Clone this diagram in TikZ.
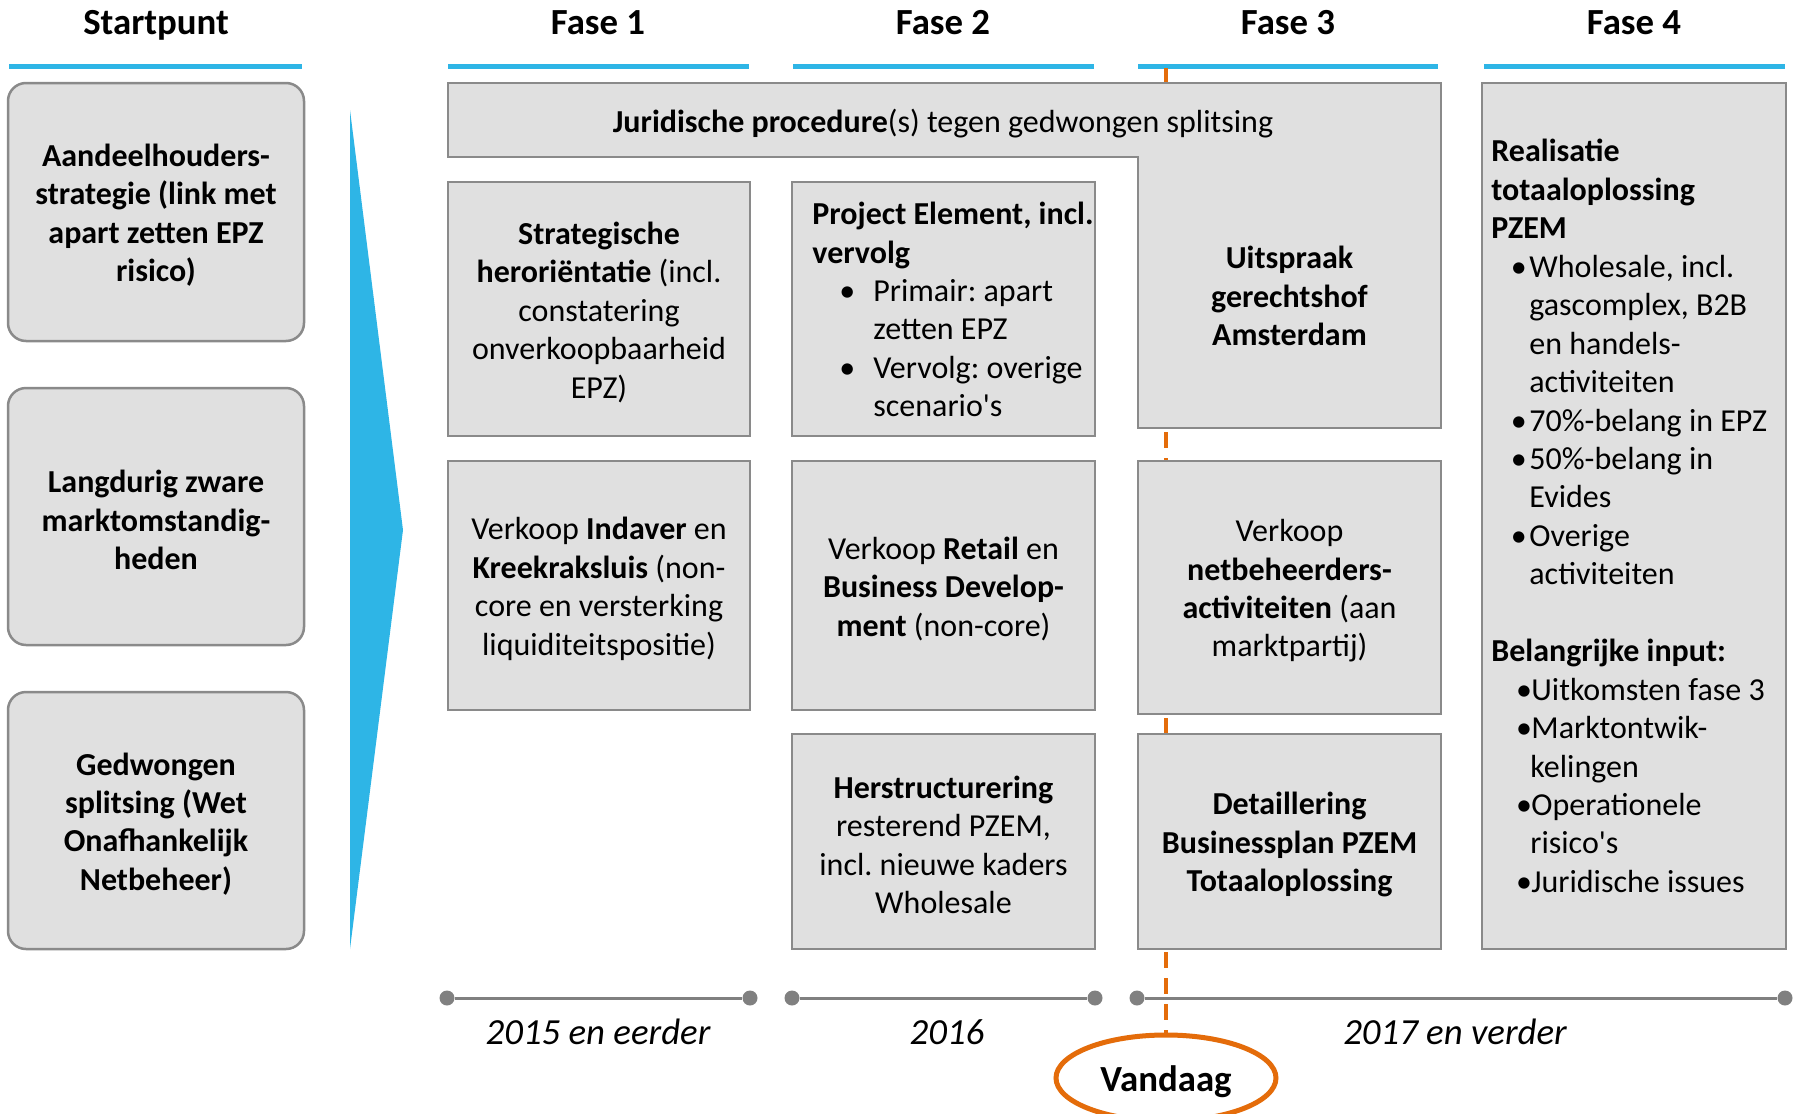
\documentclass[tikz,border=0pt]{standalone}
\usepackage{fontspec}
\setmainfont{Carlito}
\usetikzlibrary{shapes.geometric}
\definecolor{pblue}{RGB}{46,181,230}
\definecolor{bfill}{RGB}{224,224,224}
\definecolor{bdraw}{RGB}{138,138,138}
\definecolor{porange}{RGB}{228,108,10}
\definecolor{tgray}{RGB}{128,128,128}
\newcommand{\bodyfont}{\fontsize{16}{19.22}\selectfont\frenchspacing}
\newcommand{\headfont}{\fontsize{18.4}{22}\selectfont\bfseries}
\newcommand{\bul}[2]{\hspace*{#1}\makebox[#2][l]{•}}
\begin{document}
\begin{tikzpicture}[x=0.5pt,y=-0.5pt,
  gbox/.style={draw=bdraw, fill=bfill, line width=1.25pt, inner sep=0pt},
  rbox/.style={gbox, rounded corners=9pt, minimum width=148pt},
  head/.style={font=\headfont, anchor=base, inner sep=0pt},
  uline/.style={pblue, line width=2.5pt},
  txt/.style={font=\bodyfont, align=center, inner sep=0pt, yshift=-1.7pt},
  yr/.style={font=\fontsize{18.4}{22}\selectfont\itshape, anchor=base, inner sep=0pt},
  dot/.style={circle, fill=tgray, minimum size=7.5pt, inner sep=0pt},
  tl/.style={tgray, line width=1.5pt},
  odash/.style={porange, line width=2pt, dash pattern=on 8pt off 5pt}]
\useasboundingbox (0,0) rectangle (1796,1114);
\clip (0,0) rectangle (1796,1114);

% headers
\node[head] (h0) at (156,34.5) {Startpunt};
\node[head] (h1) at (598,34.5) {Fase 1};
\node[head] (h2) at (943,34.5) {Fase 2};
\node[head] (h3) at (1288,34.5) {Fase 3};
\node[head] (h4) at (1634,34.5) {Fase 4};
\draw[uline] (9,66) -- (302,66);
\draw[uline] (448,66) -- (749,66);
\draw[uline] (793,66) -- (1094,66);
\draw[uline] (1138,66) -- (1438,66);
\draw[uline] (1484,66) -- (1785,66);

% Vandaag marker and dashed line
\node[ellipse, draw=porange, line width=2.5pt, fill=white, minimum width=110pt, minimum height=43pt, inner sep=0pt] (vd) at (1166,1078) {};
\node[font=\headfont, inner sep=0pt, yshift=-1.7pt] (vdt) at (vd.center) {Vandaag};
\coordinate (otop) at (1166,68);
\draw[odash] (otop) -- (vd.north);

% start boxes
\node[rbox, minimum height=129pt] (s1) at (156,212) {};
\node[txt] (s1t) at (s1.center) {\textbf{Aandeelhouders-}\\ \textbf{strategie (link met}\\ \textbf{apart zetten EPZ}\\ \textbf{risico)}};
\node[rbox, minimum height=128.5pt] (s2) at (156,516.5) {};
\node[txt] (s2t) at (s2.center) {\textbf{Langdurig zware}\\ \textbf{marktomstandig-}\\ \textbf{heden}};
\node[rbox, minimum height=128.5pt] (s3) at (156,820.5) {};
\node[txt] (s3t) at (s3.center) {\textbf{Gedwongen}\\ \textbf{splitsing (Wet}\\ \textbf{Onafhankelijk}\\ \textbf{Netbeheer)}};

% arrow
\fill[pblue] (350,110) -- (403,530) -- (350,949) -- cycle;

% juridische L-shape
\filldraw[fill=bfill, draw=bdraw, line width=1.25pt] (448,83) -- (1441,83) -- (1441,428) -- (1138,428) -- (1138,157) -- (448,157) -- cycle;
\node[txt] (jur) at (943,120) {\textbf{Juridische procedure}(s) tegen gedwongen splitsing};
\node[txt] (uit) at (1289.5,292.5) {\textbf{Uitspraak}\\ \textbf{gerechtshof}\\ \textbf{Amsterdam}};

% fase 1
\node[gbox, minimum width=151pt, minimum height=127pt] (f1a) at (599,309) {};
\node[txt] (f1at) at (f1a.center) {\textbf{Strategische}\\ \textbf{heroriëntatie} (incl.\\ constatering\\ onverkoopbaarheid\\ EPZ)};
\node[gbox, minimum width=151pt, minimum height=124.5pt] (f1b) at (599,585.5) {};
\node[txt] (f1bt) at (f1b.center) {Verkoop \textbf{Indaver} en\\ \textbf{Kreekraksluis} (non-\\ core en versterking\\ liquiditeitspositie)};

% fase 2
\node[gbox, minimum width=151.5pt, minimum height=127pt] (f2a) at (943.5,309) {};
\node[txt, align=left, anchor=west, yshift=1.4pt] (f2at) at (812,309) {\textbf{Project Element, incl.}\\ \textbf{vervolg}\\ \bul{13.5pt}{17pt}Primair: apart\\ \hspace*{30.5pt}zetten EPZ\\ \bul{13.5pt}{17pt}Vervolg: overige\\ \hspace*{30.5pt}scenario\textquotesingle s};
\node[gbox, minimum width=151.5pt, minimum height=124.5pt] (f2b) at (943.5,585.5) {};
\node[txt] (f2bt) at (f2b.center) {Verkoop \textbf{Retail} en\\ \textbf{Business Develop-}\\ \textbf{ment} (non-core)};
\node[gbox, minimum width=151.5pt, minimum height=107.5pt] (f2c) at (943.5,841.5) {};
\node[txt] (f2ct) at (f2c.center) {\textbf{Herstructurering}\\ resterend PZEM,\\ incl. nieuwe kaders\\ Wholesale};

% fase 3
\node[gbox, minimum width=151.5pt, minimum height=126.5pt] (f3b) at (1289.5,587.5) {};
\node[txt] (f3bt) at (f3b.center) {Verkoop\\ \textbf{netbeheerders-}\\ \textbf{activiteiten} (aan\\ marktpartij)};
\node[gbox, minimum width=151.5pt, minimum height=107.5pt] (f3c) at (1289.5,841.5) {};
\node[txt] (f3ct) at (f3c.center) {\textbf{Detaillering}\\ \textbf{Businessplan PZEM}\\ \textbf{Totaaloplossing}};

% fase 4
\node[gbox, minimum width=152pt, minimum height=433pt] (f4) at (1634,516) {};
\node[txt, align=left, anchor=west, yshift=1.7pt] (f4t) at (1491,516) {\textbf{Realisatie}\\ \textbf{totaaloplossing}\\ \textbf{PZEM}\\
\bul{9.7pt}{9.3pt}Wholesale, incl.\\ \hspace*{19pt}gascomplex, B2B\\ \hspace*{19pt}en handels-\\ \hspace*{19pt}activiteiten\\
\bul{9.7pt}{9.3pt}70\%-belang in EPZ\\ \bul{9.7pt}{9.3pt}50\%-belang in\\ \hspace*{19pt}Evides\\ \bul{9.7pt}{9.3pt}Overige\\ \hspace*{19pt}activiteiten\\[19.22pt]
\textbf{Belangrijke input:}\\ \bul{12.3pt}{7.7pt}Uitkomsten fase 3\\ \bul{12.3pt}{7.7pt}Marktontwik-\\ \hspace*{19.5pt}kelingen\\ \bul{12.3pt}{7.7pt}Operationele\\ \hspace*{19.5pt}risico\textquotesingle s\\ \bul{12.3pt}{7.7pt}Juridische issues};

% timeline
\node[dot] (t1a) at (447,998) {};
\node[dot] (t1b) at (750,998) {};
\node[dot] (t2a) at (792,998) {};
\node[dot] (t2b) at (1095,998) {};
\node[dot] (t3a) at (1137,998) {};
\node[dot] (t3b) at (1785,998) {};
\draw[tl] (t1a) -- (t1b);
\draw[tl] (t2a) -- (t2b);
\draw[tl] (t3a) -- (t3b);
\node[yr] (y1) at (598,1044) {2015 en eerder};
\node[yr] (y2) at (947,1044) {2016};
\node[yr] (y3) at (1455,1044) {2017 en verder};
\end{tikzpicture}
\end{document}
